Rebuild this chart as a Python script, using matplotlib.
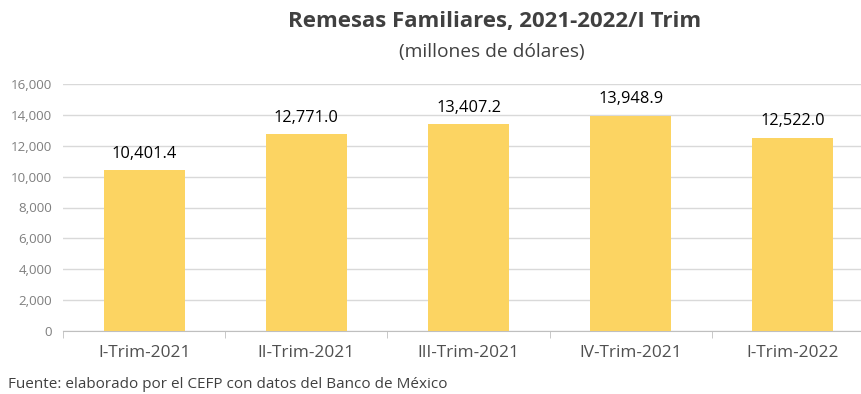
import numpy as np
import matplotlib
matplotlib.use("Agg")
from matplotlib import pyplot as plt
from matplotlib.ticker import FuncFormatter

categories = ['I-Trim-2021', 'II-Trim-2021', 'III-Trim-2021', 'IV-Trim-2021', 'I-Trim-2022']
remesas = [10401.4, 12771.0, 13407.2, 13948.9, 12522.0]
yticks = [0, 2000, 4000, 6000, 8000, 10000, 12000, 14000, 16000]

plt.rcParams['font.family'] = ['Open Sans', 'DejaVu Sans']

fig = plt.figure(figsize=(8.62, 3.94), dpi=100)
ax = fig.add_axes([63 / 862, 63 / 394, 811 / 862, 247 / 394])

x = np.arange(len(categories))
ax.bar(x, remesas, width=0.5, color='#FCD462', zorder=3)

for xi, val in zip(x, remesas):
    ax.annotate('{:,.1f}'.format(val), (xi, val), xytext=(0, 6),
                textcoords='offset points', ha='center', va='bottom',
                fontsize=11.8, color='#000000')

ax.set_xlim(-0.5, len(categories) - 0.5)
ax.set_ylim(0, 16000)
ax.set_yticks(yticks)
ax.yaxis.set_major_formatter(FuncFormatter(lambda v, p: '{:,.0f}'.format(v)))
ax.tick_params(axis='y', length=0, labelsize=9.6, labelcolor='#7F7F7F', pad=8)
ax.grid(axis='y', color='#D9D9D9', linewidth=1, zorder=0)

ax.set_xticks(x)
ax.set_xticklabels(categories)
ax.tick_params(axis='x', length=0, labelsize=12.4, labelcolor='#505050', pad=10)
ax.set_xticks(np.arange(len(categories) + 1) - 0.5, minor=True)
ax.tick_params(axis='x', which='minor', length=5, color='#BFBFBF', direction='out')

for side in ['top', 'right', 'left']:
    ax.spines[side].set_visible(False)
ax.spines['bottom'].set_color('#BFBFBF')

fig.text(495 / 862, 1 - 22 / 394, 'Remesas Familiares, 2021-2022/I Trim',
         ha='center', va='center', fontsize=16, fontweight='bold', color='#404040')
fig.text(492 / 862, 1 - 52 / 394, '(millones de dólares)',
         ha='center', va='center', fontsize=13.8, color='#404040')
fig.text(8 / 862, 1 - 384 / 394, 'Fuente: elaborado por el CEFP con datos del Banco de México',
         ha='left', va='center', fontsize=11, color='#404040')

fig.savefig('out.png', dpi=100)
